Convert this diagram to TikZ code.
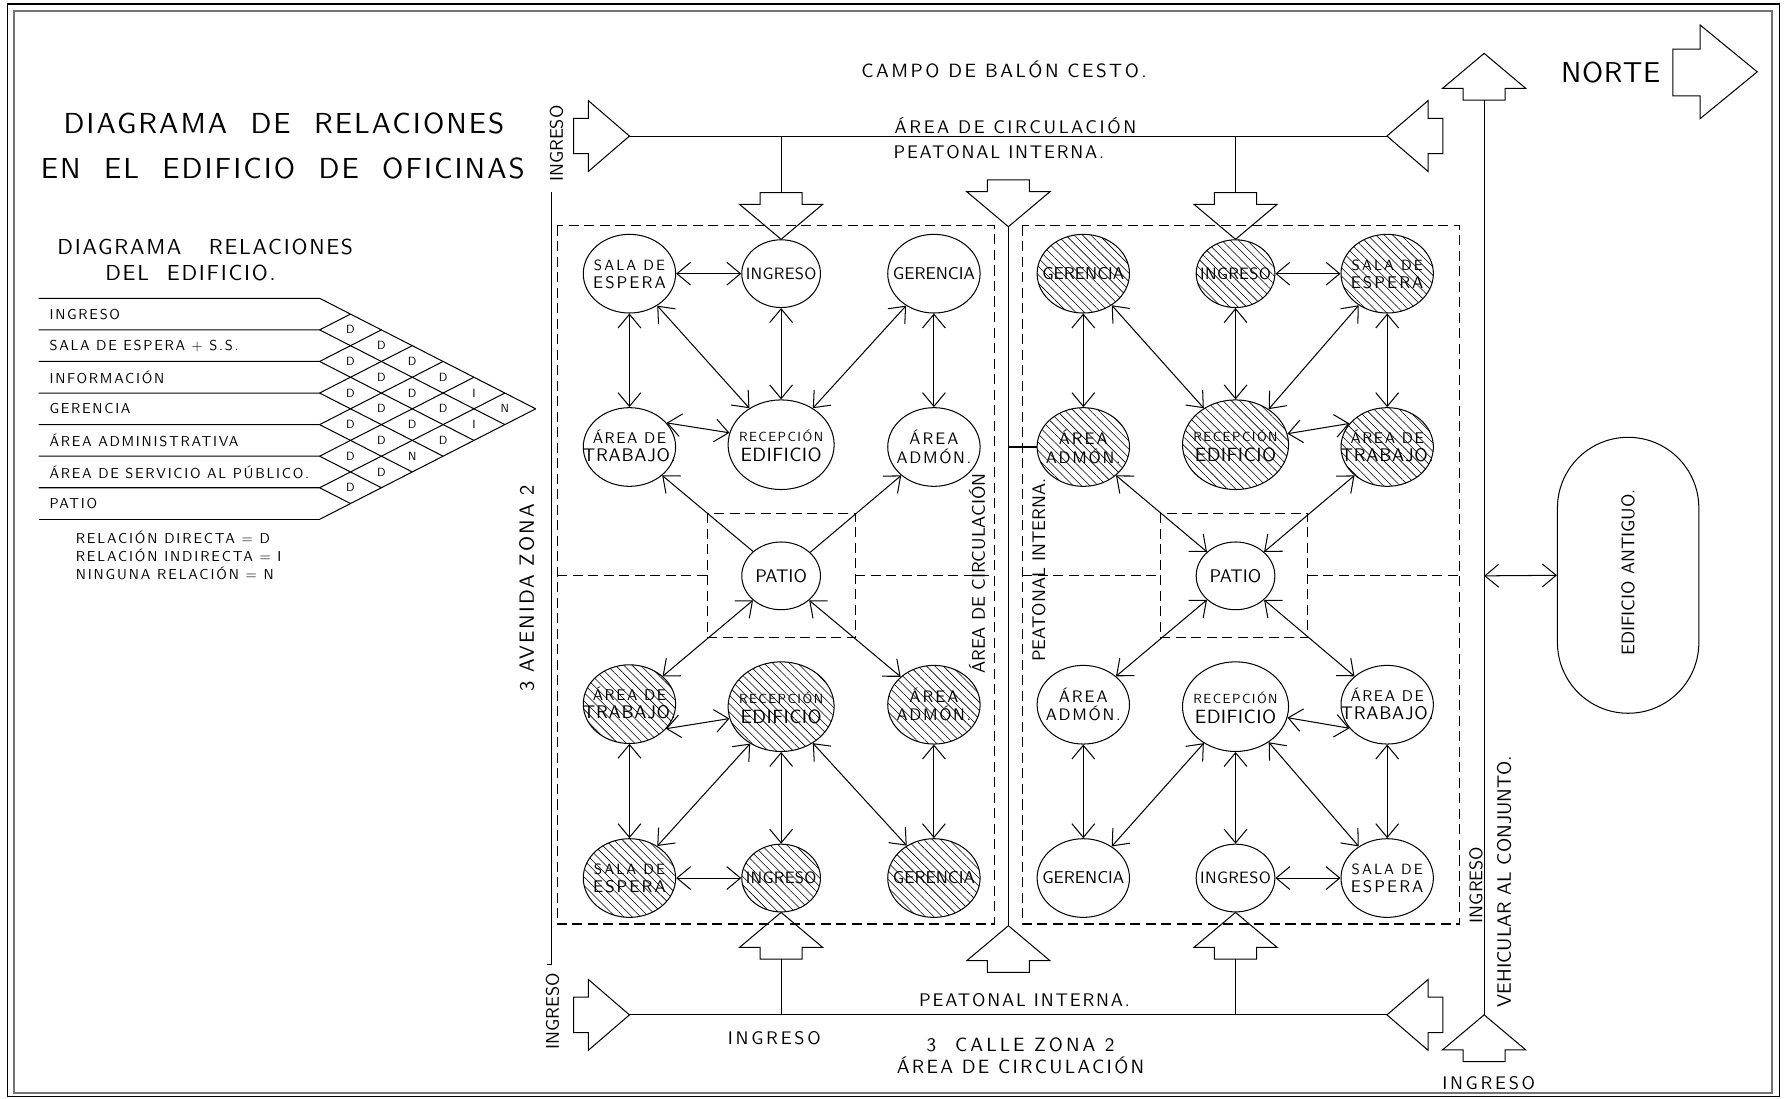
\documentclass[tikz,border=0pt]{standalone}
\usepackage{fontspec}
\setmainfont{lmsans10-regular.otf}
\usetikzlibrary{arrows.meta,shapes.geometric,patterns.meta}
\newcommand\letra[2]{\fontsize{#1}{#1}\selectfont\addfontfeatures{LetterSpace=#2}}

\begin{document}
\begin{tikzpicture}[x=0.5pt,y=-0.5pt,line width=0.45pt,
    barb/.tip={Straight Barb[length=6pt,width=10pt]},
    dbl/.style={barb-barb},
    sim/.style={-barb},
    txt/.style 2 args={font=\letra{#1}{#2},inner sep=0pt},
    room/.style={ellipse,draw,inner sep=0pt,minimum width=40.5pt,minimum height=34.5pt},
    chica/.style={room,minimum width=34.5pt,minimum height=29.7pt},
    grande/.style={room,minimum width=46.5pt,minimum height=39.3pt},
    rayado/.style={pattern={Lines[angle=-45,distance=2.6pt,line width=0.25pt]}},
    sector/.style={dash pattern=on 4.4pt off 2.4pt},
    sala/.style={room,label={[txt={6.5}{14},yshift=3.7pt]center:SALA DE},
      label={[txt={7.4}{12},yshift=-3.9pt]center:ESPERA}},
    ingreso/.style={chica,label={[txt={7.2}{2}]center:INGRESO}},
    gerencia/.style={room,label={[txt={7.5}{0}]center:GERENCIA}},
    trabajo/.style={room,label={[txt={6.8}{10},yshift=4.5pt]center:ÁREA DE},
      label={[txt={8}{4},yshift=-3.5pt]center:TRABAJO.}},
    recepcion/.style={grande,label={[txt={5.8}{11},yshift=3.8pt]center:RECEPCIÓN},
      label={[txt={8.4}{2},yshift=-4.5pt]center:EDIFICIO}},
    admon/.style={room,label={[txt={7.3}{12},yshift=4.3pt]center:ÁREA},
      label={[txt={7.3}{10},yshift=-4pt]center:ADMÓN.}},
    patio/.style={chica,label={[txt={8}{0}]center:PATIO}},
    entrada/.pic={\draw (0,0) -- (-36,-31) -- (-36,-15.5) -- (-49,-15.5) -- (-49,15.5)
      -- (-36,15.5) -- (-36,31) -- cycle;},
    flecha/.pic={\draw (0,0) -- (-30.7,-36.5) -- (-30.7,-18.5) -- (-41,-18.5) -- (-41,18.5)
      -- (-30.7,18.5) -- (-30.7,36.5) -- cycle;}]
    \useasboundingbox (0,0) rectangle (1568,963);

    % marco
    \draw[line width=0.7pt] (6.5,3.5) rectangle (1560.4,961.7);
    \draw[black!55,line width=0.9pt] (12,9.6) rectangle (1553.7,958.7);

    % titulos
    \node[txt={12.7}{7}] (titulo1) at (249,108) {DIAGRAMA\ \ DE\ \ RELACIONES};
    \node[txt={12.7}{7}] (titulo2) at (248,148) {EN\ \ EL\ \ EDIFICIO\ \ DE\ \ OFICINAS};
    \node[txt={9.5}{8}] (sub1) at (180,217) {DIAGRAMA\hspace{12pt}RELACIONES};
    \node[txt={9.5}{8}] (sub2) at (167,239) {DEL\ \ EDIFICIO.};

    % matriz de relaciones
    \foreach \k in {0,...,7}{
        \draw (33.8,{261.6+27.69*\k}) -- (280.3,{261.6+27.69*\k})
            -- ++({27.07*(7-\k)},{13.845*(7-\k)});
        \draw (280.3,{261.6+27.69*\k}) -- ++({27.07*\k},{-13.845*\k});
    }
    \foreach \t [count=\r] in {INGRESO,SALA DE ESPERA + S.S.,INFORMACIÓN,GERENCIA,
        ÁREA ADMINISTRATIVA,ÁREA DE SERVICIO AL PÚBLICO.,PATIO}
        \node[txt={6.3}{12},anchor=west] (fila\r) at (43,{261.6+27.69*(\r-0.5)}) {\t};
    \foreach \i/\j/\v in {1/2/D,1/3/D,1/4/D,1/5/D,1/6/I,1/7/N,2/3/D,2/4/D,2/5/D,2/6/D,
        2/7/I,3/4/D,3/5/D,3/6/D,3/7/D,4/5/D,4/6/D,4/7/N,5/6/D,5/7/D,6/7/D}
        \node[txt={5.2}{0}] (v\i\j) at ({280.3+27.07*(\j-\i)},{261.6+13.845*(\i+\j-1)}) {\v};
    \node[txt={6.3}{13},anchor=west] (leyenda1) at (66,471) {RELACIÓN DIRECTA = D};
    \node[txt={6.3}{13},anchor=west] (leyenda2) at (66,487) {RELACIÓN INDIRECTA = I};
    \node[txt={6.3}{13},anchor=west] (leyenda3) at (66,503) {NINGUNA RELACIÓN = N};

    % calles y circulaciones
    \draw (483.8,168) -- (483.8,845.4) -- (479.4,845.4);
    \node[txt={8}{0},rotate=90] (ing1) at (488,126) {INGRESO};
    \node[txt={8}{0},rotate=90] (ing2) at (484.5,887) {INGRESO};
    \node[txt={9}{10},rotate=90] (avenida) at (462,516) {3 AVENIDA ZONA 2};
    \node[txt={8.4}{13}] (campo) at (880.5,61) {CAMPO DE BALÓN CESTO.};
    \node[txt={8}{14}] (circ1) at (890.5,110) {ÁREA DE CIRCULACIÓN};
    \node[txt={8}{10}] (peat1) at (876,133.5) {PEATONAL INTERNA.};
    \node[txt={8}{10}] (peat2) at (898.5,877) {PEATONAL INTERNA.};
    \node[txt={8}{15}] (ing5) at (679,910) {INGRESO};
    \node[txt={8.4}{16}] (calle) at (895,916.5) {3\ \ CALLE ZONA 2};
    \node[txt={8.4}{12}] (circ3) at (895,934) {ÁREA DE CIRCULACIÓN};
    \node[txt={8}{0},rotate=90] (circ2) at (857,503) {ÁREA DE CIRCULACIÓN};
    \node[txt={8}{0},rotate=90] (peat3) at (911,500) {PEATONAL INTERNA.};
    \node[txt={8}{0},rotate=90] (ing3) at (1294.5,776) {INGRESO};
    \node[txt={8.5}{0},rotate=90] (vehic) at (1319,773) {VEHICULAR AL CONJUNTO.};
    \node[txt={8}{15}] (ing6) at (1305.5,950) {INGRESO};

    \coordinate (entradaNO) at (552,119.3);
    \coordinate (entradaNE) at (1216.3,119.3);
    \coordinate (entradaSO) at (552,890);
    \coordinate (entradaSE) at (1216.3,890);
    \draw (entradaNO) -- (entradaNE);
    \draw (entradaSO) -- (entradaSE);
    \pic at (entradaNO) {entrada};
    \pic[rotate=180] at (entradaNE) {entrada};
    \pic at (entradaSO) {entrada};
    \pic[rotate=180] at (entradaSE) {entrada};

    % sectores
    \draw[sector] (488.8,197.9) rectangle (871.7,810.3);
    \draw[sector] (896.5,197.9) rectangle (1280,810.3);
    \draw[sector] (620.6,450) rectangle (749.8,559.2);
    \draw[sector] (1018,450) rectangle (1147,559.2);
    \draw[sector] (488.8,505) -- (620.6,505) (749.8,505) -- (871.7,505);
    \draw[sector] (896.5,505) -- (1018,505) (1147,505) -- (1280,505);

    % ambientes
    \node[sala] (sala1) at (552,240) {};
    \node[ingreso] (ingreso1) at (685,240) {};
    \node[gerencia] (gerencia1) at (819,240) {};
    \node[trabajo] (trabajo1) at (552,392) {};
    \node[recepcion] (recepcion1) at (685,390) {};
    \node[admon] (admon1) at (819,392) {};
    \node[patio] (patio1) at (685,505) {};
    \node[trabajo,rayado] (trabajo2) at (552,617.5) {};
    \node[recepcion,rayado] (recepcion2) at (685,619.7) {};
    \node[admon,rayado] (admon2) at (819,618) {};
    \node[sala,rayado] (sala2) at (552,770) {};
    \node[ingreso,rayado] (ingreso2) at (685,770) {};
    \node[gerencia,rayado] (gerencia2) at (819,770) {};

    \node[gerencia,rayado] (gerencia3) at (950,240) {};
    \node[ingreso,rayado] (ingreso3) at (1083.5,240) {};
    \node[sala,rayado] (sala3) at (1216.5,240) {};
    \node[admon,rayado] (admon3) at (950,392) {};
    \node[recepcion,rayado] (recepcion3) at (1083.5,390) {};
    \node[trabajo,rayado] (trabajo3) at (1216.5,392) {};
    \node[patio] (patio2) at (1083.5,505) {};
    \node[admon] (admon4) at (950,618) {};
    \node[recepcion] (recepcion4) at (1083.5,619.7) {};
    \node[trabajo] (trabajo4) at (1216.5,618) {};
    \node[gerencia] (gerencia4) at (950,770) {};
    \node[ingreso] (ingreso4) at (1083.5,770) {};
    \node[sala] (sala4) at (1216.5,770) {};

    % accesos a los sectores
    \coordinate (ramal1) at (685,119.3);
    \coordinate (cola1) at (685,169.3);
    \coordinate (ramal3) at (1083.5,119.3);
    \coordinate (cola3) at (1083.5,169.3);
    \coordinate (ramal2) at (685,890);
    \coordinate (cola2) at (685,840.7);
    \coordinate (ramal4) at (1083.5,890);
    \coordinate (cola4) at (1083.5,840.7);
    \draw (ramal1) -- (cola1);
    \draw (ramal3) -- (cola3);
    \draw (ramal2) -- (cola2);
    \draw (ramal4) -- (cola4);
    \pic[rotate=-90] at (ingreso1.north) {flecha};
    \pic[rotate=-90] at (ingreso3.north) {flecha};
    \pic[rotate=90] at (ingreso2.south) {flecha};
    \pic[rotate=90] at (ingreso4.south) {flecha};

    \coordinate (centroN) at (884.3,198.8);
    \coordinate (centroS) at (884.3,811.8);
    \coordinate (enlace) at (884.3,392);
    \draw (centroN) -- (centroS);
    \draw (enlace) -- (admon3.west);
    \pic[rotate=-90] at (centroN) {flecha};
    \pic[rotate=90] at (centroS) {flecha};

    % ingreso vehicular y edificio antiguo
    \coordinate (vehN) at (1301.5,87.7);
    \coordinate (vehS) at (1301.5,890);
    \coordinate (cruce) at (1301.5,505);
    \draw (vehN) -- (vehS);
    \pic[rotate=90] at (1301.5,46.8) {flecha};
    \pic[rotate=90] at (vehS) {flecha};
    \node[draw,rounded corners=31pt,minimum width=62pt,minimum height=121pt,inner sep=0pt]
        (antiguo) at (1427.8,504.5) {};
    \node[txt={8}{0},rotate=90] (antiguot) at (1427.8,502) {EDIFICIO ANTIGUO.};
    \draw[dbl] (cruce) -- (antiguo.west);

    % norte
    \draw (1541,63) -- (1491,22) -- (1491,43) -- (1467,43) -- (1467,84) -- (1491,84)
        -- (1491,104) -- cycle;
    \node[txt={12.6}{2}] (norte) at (1412.5,64) {NORTE};

    % relaciones
    \draw[dbl] (sala1) -- (ingreso1);
    \draw[dbl] (sala1) -- (trabajo1);
    \draw[dbl] (sala1.-49) -- (recepcion1.131);
    \draw[dbl] (ingreso1) -- (recepcion1);
    \draw[dbl] (gerencia1.-131) -- (recepcion1.49);
    \draw[dbl] (gerencia1) -- (admon1);
    \draw[dbl] (trabajo1.33) -- (recepcion1.167);
    \draw[sim] (patio1.139) -- (trabajo1.-41);
    \draw[sim] (patio1.39) -- (admon1.-139);
    \draw[dbl] (patio1.-139) -- (trabajo2.40);
    \draw[dbl] (patio1.-41) -- (admon2.140);
    \draw[dbl] (trabajo2.-34) -- (recepcion2.-167);
    \draw[dbl] (trabajo2) -- (sala2);
    \draw[dbl] (recepcion2.-130) -- (sala2.49);
    \draw[dbl] (recepcion2) -- (ingreso2);
    \draw[dbl] (recepcion2.-49) -- (gerencia2.130);
    \draw[dbl] (admon2) -- (gerencia2);
    \draw[dbl] (sala2) -- (ingreso2);

    \draw[dbl] (ingreso3) -- (sala3);
    \draw[dbl] (gerencia3) -- (admon3);
    \draw[dbl] (gerencia3.-48) -- (recepcion3.131);
    \draw[dbl] (ingreso3) -- (recepcion3);
    \draw[dbl] (sala3.-132) -- (recepcion3.47);
    \draw[dbl] (sala3) -- (trabajo3);
    \draw[dbl] (recepcion3.12) -- (trabajo3.148);
    \draw[dbl] (admon3.-41) -- (patio2.140);
    \draw[dbl] (trabajo3.-139) -- (patio2.40);
    \draw[dbl] (patio2.-140) -- (admon4.41);
    \draw[dbl] (patio2.-40) -- (trabajo4.139);
    \draw[dbl] (admon4) -- (gerencia4);
    \draw[dbl] (recepcion4.-131) -- (gerencia4.48);
    \draw[dbl] (recepcion4) -- (ingreso4);
    \draw[dbl] (recepcion4.-47) -- (sala4.132);
    \draw[dbl] (trabajo4) -- (sala4);
    \draw[dbl] (recepcion4.-12) -- (trabajo4.-148);
    \draw[dbl] (ingreso4) -- (sala4);
\end{tikzpicture}
\end{document}
